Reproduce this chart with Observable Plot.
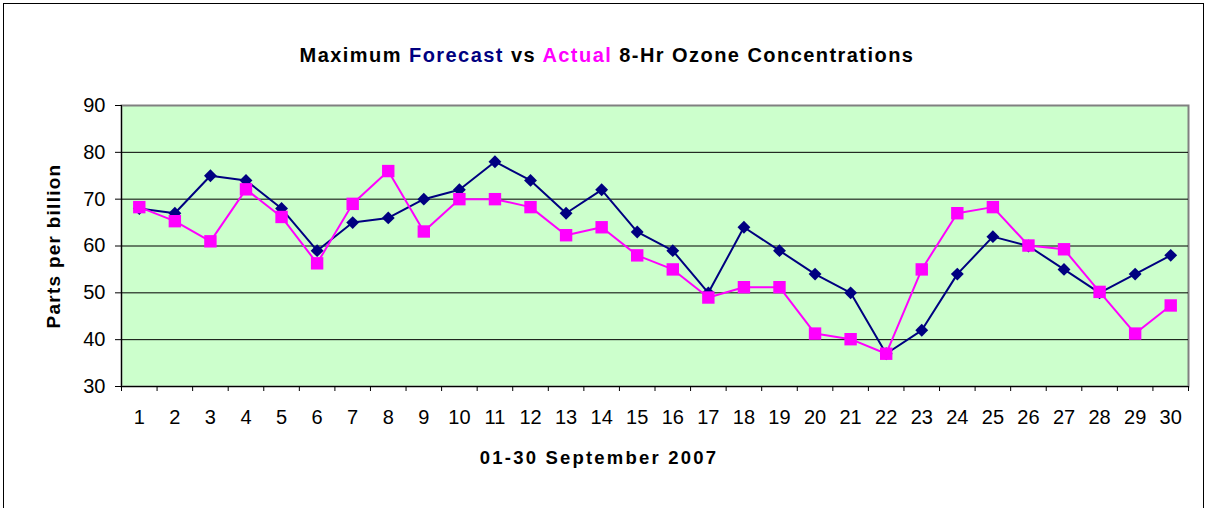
<!DOCTYPE html>
<html><head><meta charset="utf-8">
<script src="https://cdn.jsdelivr.net/npm/d3@7"></script>
<script src="https://cdn.jsdelivr.net/npm/@observablehq/plot@0.6"></script>
<style>
body{margin:0;background:#fff;}
#wrap{position:relative;width:1208px;height:508px;font-family:"Liberation Sans",Arial,sans-serif;overflow:hidden;}
#frame{position:absolute;left:3px;top:3px;width:1201px;height:520px;border:1px solid #000;box-sizing:border-box;}
#title{position:absolute;left:0;width:1214px;top:43px;text-align:center;font-weight:bold;font-size:20px;letter-spacing:1.45px;line-height:24px;color:#000;}
#chart{position:absolute;left:0;top:0;}
</style></head>
<body><div id="wrap"><div id="frame"></div><div id="chart"></div><div id="title">Maximum <span style="color:#000080">Forecast</span> vs <span style="color:#FF00FF">Actual</span> 8-Hr Ozone Concentrations</div></div>
<script>
const days = [1,2,3,4,5,6,7,8,9,10,11,12,13,14,15,16,17,18,19,20,21,22,23,24,25,26,27,28,29,30];
const forecast = [68,67,75,74,68,59,65,66,70,72,78,74,67,72,63,59,50,64,59,54,50,37,42,54,62,60,55,50,54,58];
const actual = [68.3,65.3,61,72.1,66.2,56.3,69,76,63.1,70,70,68.3,62.3,64,58,55,49,51.2,51.2,41.3,40.1,37,55,67,68.3,60.1,59.3,50.2,41.3,47.3];
const yTicks = [30,40,50,60,70,80,90];
const gridTicks = yTicks.slice(1, -1);
const dayEdges = days.map(d => d - 0.5).concat([days[days.length - 1] + 0.5]);
const yLabel = "Parts per billion";
const xLabel = "01-30 September 2007";

const rows = days.map((d, i) => ({day: d, forecast: forecast[i], actual: actual[i]}));

const plot = Plot.plot({
  width: 1208, height: 508,
  marginLeft: 121, marginRight: 20, marginTop: 105, marginBottom: 122,
  style: {fontFamily: "'Liberation Sans', Arial, sans-serif", fontSize: "20px", color: "#000", background: "transparent", overflow: "visible"},
  x: {type: "linear", domain: [dayEdges[0], dayEdges[dayEdges.length - 1]]},
  y: {domain: [yTicks[0], yTicks[yTicks.length - 1]]},
  marks: [
    Plot.frame({fill: "#CCFFCC", stroke: "#808080", strokeWidth: 2}),
    Plot.ruleY(gridTicks, {stroke: "#000", strokeWidth: 1}),
    Plot.ruleX([dayEdges[0]], {stroke: "#000", strokeWidth: 1}),
    Plot.ruleY([yTicks[0]], {stroke: "#000", strokeWidth: 1}),
    Plot.axisY({ticks: yTicks, tickSize: 6, tickPadding: 10, label: null, fontSize: 20}),
    Plot.axisX({ticks: days, tickSize: 0, tickPadding: 23, label: null, fontSize: 20}),
    Plot.axisX({ticks: dayEdges, tickSize: 5, tickFormat: () => "", label: null}),
    Plot.line(rows, {x: "day", y: "forecast", stroke: "#000080", strokeWidth: 2}),
    Plot.dot(rows, {x: "day", y: "forecast", symbol: "diamond2", fill: "#000080", r: 5.8}),
    Plot.line(rows, {x: "day", y: "actual", stroke: "#FF00FF", strokeWidth: 2}),
    Plot.dot(rows, {x: "day", y: "actual", symbol: "square", fill: "#FF00FF", r: 7}),
    Plot.text([yLabel], {frameAnchor: "left", rotate: -90, dx: -68, textAnchor: "middle", fontWeight: "bold", fontSize: 19}),
    Plot.text([xLabel], {frameAnchor: "bottom", dx: -56, dy: 77, textAnchor: "middle", fontWeight: "bold", fontSize: 18.5})
  ]
});
d3.select(plot).selectAll("text").each(function() {
  const t = this.textContent;
  if (t === yLabel) this.style.letterSpacing = "1.25px";
  if (t === xLabel) this.style.letterSpacing = "2.2px";
});
document.getElementById("chart").appendChild(plot);
</script>
</body></html>
